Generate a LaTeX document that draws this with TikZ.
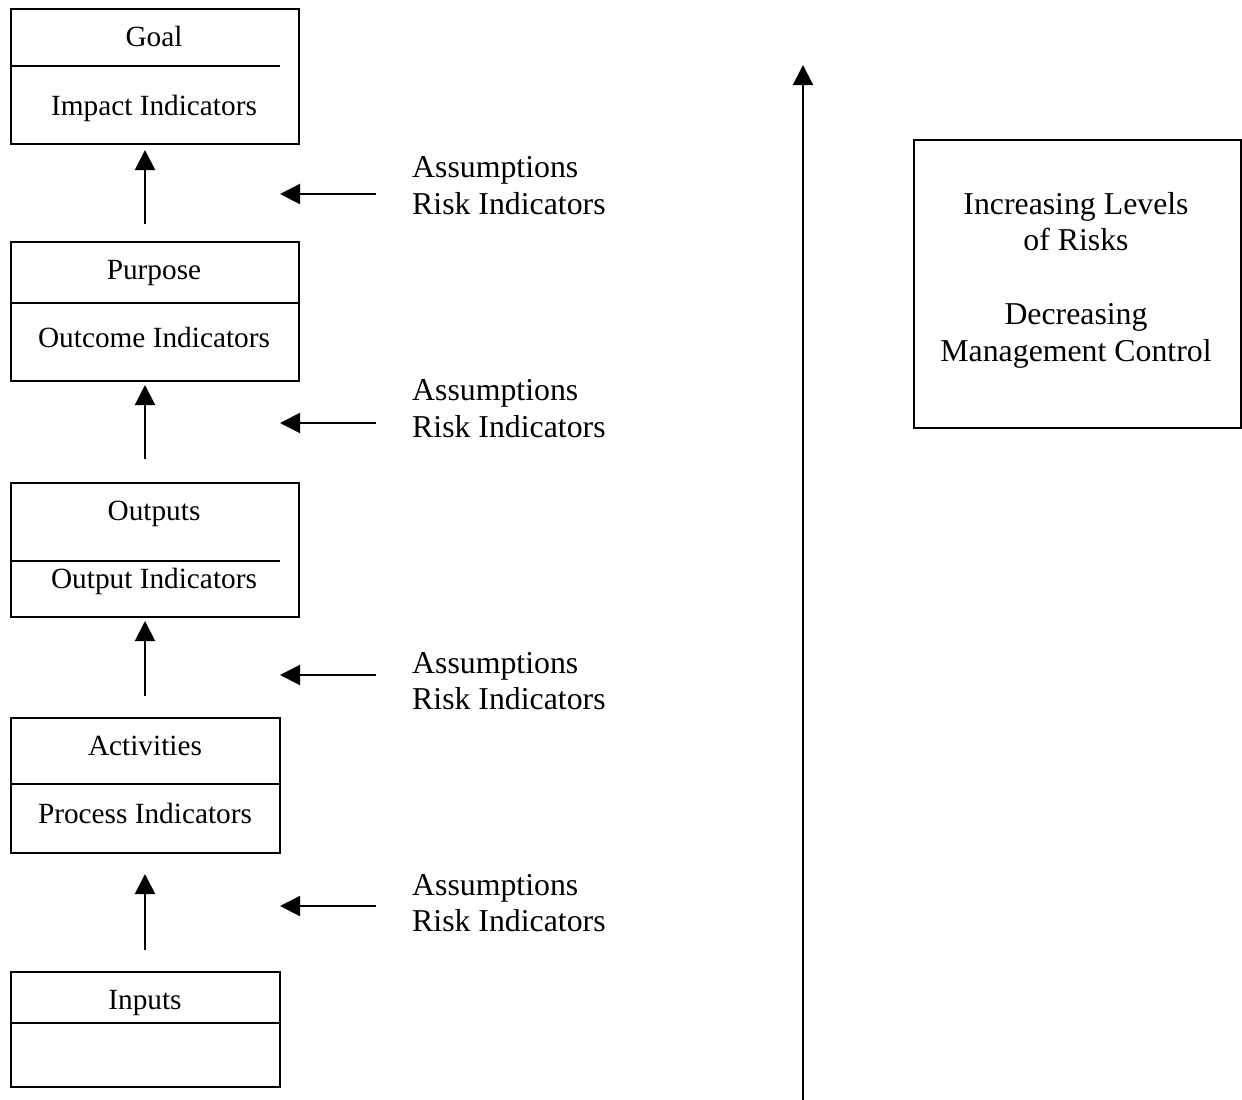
\documentclass[tikz,border=0pt]{standalone}
\usepackage{fontspec}
\setmainfont{Liberation Serif}
\usetikzlibrary{arrows.meta,calc}
\begin{document}
\begin{tikzpicture}[x=1pt,y=-1pt,
  box/.style={draw,line width=2pt,inner sep=0pt,anchor=north west},
  lbl/.style={inner sep=0pt,anchor=base,font=\fontsize{29.3}{34}\selectfont},
  side/.style={inner sep=0pt,anchor=base west,font=\fontsize{31.8}{37}\selectfont},
  big/.style={inner sep=0pt,anchor=base,font=\fontsize{31.8}{37}\selectfont},
  arr/.style={line width=2pt,-{Triangle[length=20pt,width=20pt]}},
  rule/.style={line width=2pt}]
\useasboundingbox[fill=white] (0,0) rectangle (1242,1100);

% boxes
\node[box,minimum width=288pt,minimum height=135pt] (goal) at (10,8) {};
\node[box,minimum width=288pt,minimum height=139pt] (purpose) at (10,241) {};
\node[box,minimum width=288pt,minimum height=134pt] (outputs) at (10,482) {};
\node[box,minimum width=269pt,minimum height=135pt] (activities) at (10,717) {};
\node[box,minimum width=269pt,minimum height=115pt] (inputs) at (10,971) {};
\node[box,minimum width=327pt,minimum height=287.5pt] (risk) at (913,139.3) {};

% dividers
\draw[rule] (goal.west |- 0,66) -- (280,66);
\draw[rule] (purpose.west |- 0,303) -- (purpose.east |- 0,303);
\draw[rule] (outputs.west |- 0,561) -- (280,561);
\draw[rule] (activities.west |- 0,784) -- (activities.east |- 0,784);
\draw[rule] (inputs.west |- 0,1023) -- (inputs.east |- 0,1023);

% box texts
\node[lbl] (tgoal) at (154,46) {Goal};
\node[lbl] (timpact) at (154,115) {Impact Indicators};
\node[lbl] (tpurpose) at (154,279) {Purpose};
\node[lbl] (toutcome) at (154,347) {Outcome Indicators};
\node[lbl] (toutputs) at (154,520) {Outputs};
\node[lbl] (toutind) at (154,588) {Output Indicators};
\node[lbl] (tact) at (145,755) {Activities};
\node[lbl] (tproc) at (145,823) {Process Indicators};
\node[lbl] (tinputs) at (145,1009) {Inputs};

% assumptions
\node[side] (as1a) at (412,177) {Assumptions};
\node[side] (as1b) at (412,214) {Risk Indicators};
\node[side] (as2a) at (412,400) {Assumptions};
\node[side] (as2b) at (412,437) {Risk Indicators};
\node[side] (as3a) at (412,673) {Assumptions};
\node[side] (as3b) at (412,709) {Risk Indicators};
\node[side] (as4a) at (412,895) {Assumptions};
\node[side] (as4b) at (412,931) {Risk Indicators};

% right box text
\node[big] (rk1) at (1076,214) {Increasing Levels};
\node[big] (rk2) at (1076,250) {of Risks};
\node[big] (rk3) at (1076,324) {Decreasing};
\node[big] (rk4) at (1076,361) {Management Control};

% up arrows
\coordinate (u1) at (145,224);
\coordinate (u2) at (145,459);
\coordinate (u3) at (145,696);
\coordinate (u4) at (145,950);
\draw[arr] (u1) -- ($(u1 |- goal.south)+(0,5)$);
\draw[arr] (u2) -- ($(u2 |- purpose.south)+(0,3)$);
\draw[arr] (u3) -- ($(u3 |- outputs.south)+(0,3)$);
\draw[arr] (u4) -- ($(u4 |- activities.south)+(0,20)$);

% left arrows
\coordinate (l1t) at (376,194); \coordinate (l1h) at (280,194);
\coordinate (l2t) at (376,423); \coordinate (l2h) at (280,423);
\coordinate (l3t) at (376,675); \coordinate (l3h) at (280,675);
\coordinate (l4t) at (376,906); \coordinate (l4h) at (280,906);
\draw[arr] (l1t) -- (l1h);
\draw[arr] (l2t) -- (l2h);
\draw[arr] (l3t) -- (l3h);
\draw[arr] (l4t) -- (l4h);

% big vertical arrow
\coordinate (vb) at (803,1100);
\coordinate (vt) at (803,65);
\draw[arr] (vb) -- (vt);
\end{tikzpicture}
\end{document}
